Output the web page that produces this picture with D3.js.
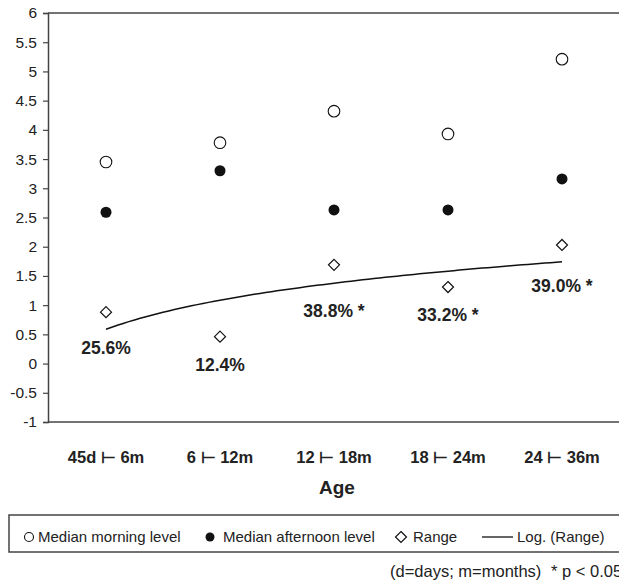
<!DOCTYPE html>
<meta charset="utf-8">
<html>
<head>
  <style>
    body { margin: 0; background: #fff; overflow: hidden; }
    svg { display: block; font-family: "Liberation Sans", Arial, "DejaVu Sans", sans-serif; }
    .axis text { fill: #222; }
  </style>
</head>
<body>
<svg id="chart" width="619" height="583"></svg>
<script src="https://d3js.org/d3.v7.min.js"></script>
<script>

// --- data ---
const ageGroups = ["45d \u22A2 6m", "6 \u22A2 12m", "12 \u22A2 18m", "18 \u22A2 24m", "24 \u22A2 36m"];
const morning   = [3.45, 3.78, 4.32, 3.93, 5.21];
const afternoon = [2.59, 3.30, 2.63, 2.63, 3.16];
const range     = [0.88, 0.46, 1.69, 1.31, 2.03];
const rangePct  = ["25.6%", "12.4%", "38.8% *", "33.2% *", "39.0% *"];
const yTicks    = [-1, -0.5, 0, 0.5, 1, 1.5, 2, 2.5, 3, 3.5, 4, 4.5, 5, 5.5, 6];

// label offsets below each diamond (px)
const pctDy = [42, 34, 52, 34, 47];

const svg = d3.select("#chart");
const plotL = 48, plotR = 640, plotT = 13, plotB = 422;
const ink = "#444";

const x = d3.scaleBand().domain(ageGroups).range([49, 619]);
const y = d3.scaleLinear().domain([-1, 6]).range([plotB, plotT]);
const cx = d => x(d) + x.bandwidth() / 2;

// frame: top and bottom lines (the right side is cut off)
svg.append("line").attr("x1", plotL).attr("x2", plotR).attr("y1", plotT).attr("y2", plotT)
  .attr("stroke", ink).attr("stroke-width", 1.5);
svg.append("line").attr("x1", plotL).attr("x2", plotR).attr("y1", plotB).attr("y2", plotB)
  .attr("stroke", ink).attr("stroke-width", 1.5);

// y axis
const yAxis = svg.append("g")
  .attr("class", "axis")
  .attr("transform", `translate(${plotL},0)`)
  .call(d3.axisLeft(y).tickValues(yTicks).tickFormat(d => String(d)).tickSize(5).tickPadding(6));
yAxis.select(".domain").attr("stroke", ink).attr("stroke-width", 1.5);
yAxis.selectAll(".tick line").attr("stroke", ink).attr("stroke-width", 1.2);
yAxis.selectAll("text").attr("font-size", 15.5).attr("font-family", "Liberation Sans, Arial, sans-serif");

// x axis labels
const xAxis = svg.append("g")
  .attr("class", "axis")
  .attr("transform", `translate(0,${plotB})`)
  .call(d3.axisBottom(x).tickSize(0).tickPadding(30));
xAxis.select(".domain").remove();
xAxis.selectAll("text")
  .attr("font-size", 16.5)
  .attr("font-weight", "bold")
  .attr("dy", 0)
  .attr("y", 41);

svg.append("text")
  .attr("x", 337).attr("y", 494)
  .attr("text-anchor", "middle")
  .attr("font-size", 19).attr("font-weight", "bold").attr("fill", "#222")
  .text("Age");

// log trendline fitted to the range series (least squares on ln x)
const lx = range.map((d, i) => Math.log(i + 1));
const mx = d3.mean(lx), my = d3.mean(range);
const slope = d3.sum(lx, (v, i) => (v - mx) * (range[i] - my)) / d3.sum(lx, v => (v - mx) ** 2);
const icpt = my - slope * mx;
const xt = d3.scaleLinear().domain([1, ageGroups.length]).range([cx(ageGroups[0]), cx(ageGroups[ageGroups.length - 1])]);
const trend = d3.range(1, ageGroups.length + 0.001, 0.05).map(t => [t, icpt + slope * Math.log(t)]);
svg.append("path")
  .datum(trend)
  .attr("fill", "none").attr("stroke", "#111").attr("stroke-width", 1.5)
  .attr("d", d3.line().x(d => xt(d[0])).y(d => y(d[1])));

// markers
svg.append("g").selectAll("circle")
  .data(morning).join("circle")
  .attr("cx", (d, i) => cx(ageGroups[i])).attr("cy", d => y(d))
  .attr("r", 5.8).attr("fill", "#fff").attr("stroke", "#111").attr("stroke-width", 1.1);

svg.append("g").selectAll("circle")
  .data(afternoon).join("circle")
  .attr("cx", (d, i) => cx(ageGroups[i])).attr("cy", d => y(d))
  .attr("r", 5.5).attr("fill", "#111");

const diamond = (px, py, w, h) => `M${px},${py - h}L${px + w},${py}L${px},${py + h}L${px - w},${py}Z`;
svg.append("g").selectAll("path")
  .data(range).join("path")
  .attr("d", (d, i) => diamond(cx(ageGroups[i]), y(d), 5.5, 5.5))
  .attr("fill", "#fff").attr("stroke", "#111").attr("stroke-width", 1.2);

// percentage labels
svg.append("g").selectAll("text")
  .data(rangePct).join("text")
  .attr("x", (d, i) => cx(ageGroups[i]))
  .attr("y", (d, i) => y(range[i]) + pctDy[i])
  .attr("text-anchor", "middle")
  .attr("font-size", 17.5).attr("font-weight", "bold").attr("fill", "#222")
  .text(d => d);

// legend
const lg = svg.append("g");
lg.append("rect").attr("x", 9).attr("y", 515).attr("width", 700).attr("height", 37)
  .attr("fill", "none").attr("stroke", ink).attr("stroke-width", 1.5);
const ly = 537;
lg.append("circle").attr("cx", 29).attr("cy", ly).attr("r", 4.5)
  .attr("fill", "#fff").attr("stroke", "#111").attr("stroke-width", 1.1);
lg.append("circle").attr("cx", 210).attr("cy", ly).attr("r", 4.5).attr("fill", "#111");
lg.append("path").attr("d", diamond(401, ly, 5.5, 5.5))
  .attr("fill", "#fff").attr("stroke", "#111").attr("stroke-width", 1.2);
lg.append("line").attr("x1", 482).attr("x2", 513).attr("y1", ly).attr("y2", ly)
  .attr("stroke", "#111").attr("stroke-width", 1.3);
const legendText = [["Median morning level", 38], ["Median afternoon level", 223], ["Range", 413], ["Log. (Range)", 517]];
lg.selectAll("text.lt").data(legendText).join("text")
  .attr("class", "lt")
  .attr("x", d => d[1]).attr("y", 542)
  .attr("font-size", 15).attr("fill", "#222")
  .text(d => d[0]);

// footnote
svg.append("text").attr("x", 390).attr("y", 577)
  .attr("font-size", 16.5).attr("fill", "#222")
  .text("(d=days; m=months)");
svg.append("text").attr("x", 551).attr("y", 577)
  .attr("font-size", 16.5).attr("fill", "#222")
  .text("* p < 0.05");

</script>
</body>
</html>
